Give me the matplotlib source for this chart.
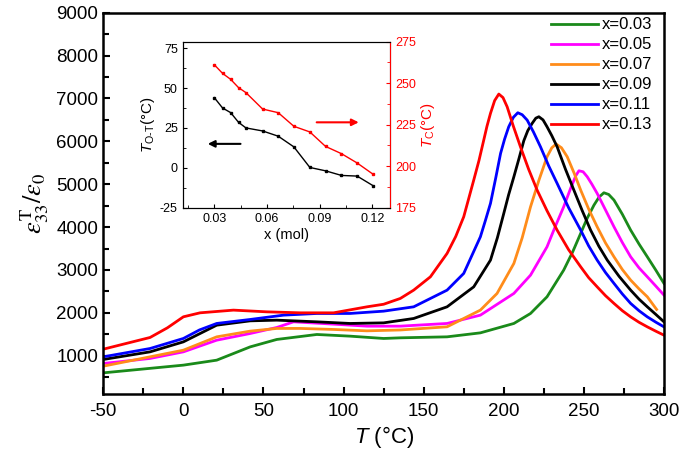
import numpy as np
import matplotlib
matplotlib.use("Agg")
import matplotlib.pyplot as plt
from matplotlib.ticker import MultipleLocator

plt.rcParams['font.family'] = ['Liberation Sans', 'DejaVu Sans']
plt.rcParams['mathtext.fontset'] = 'custom'
plt.rcParams['mathtext.rm'] = 'Liberation Sans'
plt.rcParams['mathtext.it'] = 'Liberation Sans:italic'
plt.rcParams['axes.unicode_minus'] = False

# ---- main curves: (T in °C, permittivity) ----
T_003 = [-50, 0, 20.8, 41.7, 58.3, 83.3, 104, 125, 135.4, 164.6, 185.4, 206.3, 216.7, 227, 237.4, 243, 248, 252, 256.3, 259.5, 262.5, 265.5, 268.8, 274, 279.2, 284.5, 289.6, 295, 300]
e_003 = [600, 780, 896, 1206, 1379, 1495, 1456, 1402, 1417, 1440, 1533, 1752, 1985, 2374, 2996, 3420, 3852, 4200, 4512, 4700, 4800, 4760, 4629, 4300, 3929, 3600, 3306, 2990, 2686]

T_005 = [-50, -20.8, 0, 20.8, 41.7, 58.3, 68.8, 93.75, 114.6, 135.4, 164.6, 185.4, 206.3, 216.7, 227, 232, 237.4, 242, 245, 246.9, 249.5, 252.1, 255, 258.3, 263.5, 268.8, 274, 279.2, 284.4, 289.6, 295, 300]
e_005 = [818, 936, 1090, 1362, 1518, 1658, 1790, 1736, 1689, 1689, 1752, 1946, 2452, 2879, 3540, 4000, 4473, 4930, 5200, 5313, 5290, 5173, 5000, 4785, 4400, 4006, 3640, 3306, 3050, 2840, 2620, 2413]

T_007 = [-50, 0, 20.8, 41.7, 58.3, 72.9, 93.75, 114.6, 135.4, 164.6, 185.4, 195.8, 206.3, 211.5, 216.7, 222, 227, 230, 232.7, 236, 239.6, 244, 248, 253, 258.3, 263.5, 268.8, 274, 279.2, 284.4, 289.6, 295.4]
e_007 = [756, 1129, 1440, 1573, 1636, 1636, 1612, 1580, 1600, 1674, 2063, 2452, 3152, 3750, 4473, 5100, 5640, 5850, 5936, 5850, 5640, 5250, 4863, 4420, 4006, 3630, 3306, 3010, 2763, 2560, 2374, 2079]

T_009 = [-50, -20.8, 0, 20.8, 41.7, 58.3, 83.3, 104, 125, 143.75, 164.6, 181.25, 191.7, 196, 200, 203, 206.3, 209.5, 212.5, 215, 217.7, 220, 221.9, 224.5, 227, 230, 233.3, 238.5, 243.75, 249, 254.2, 259.4, 264.6, 272, 279.2, 284.4, 289.6, 295, 300]
e_009 = [912, 1090, 1323, 1712, 1813, 1829, 1790, 1752, 1766, 1868, 2140, 2606, 3229, 3750, 4318, 4750, 5173, 5600, 6013, 6250, 6418, 6540, 6573, 6500, 6340, 6130, 5873, 5350, 4863, 4380, 3929, 3550, 3229, 2850, 2529, 2320, 2140, 1960, 1790]

T_011 = [-50, -20.8, 0, 10, 20.8, 41.7, 62.5, 83.3, 104, 125, 143.75, 164.6, 175, 185.4, 188.5, 191.7, 195, 198, 200.5, 203.1, 206, 208.75, 211.5, 214.6, 218.5, 222.9, 228, 233.3, 240.5, 248, 253, 258.3, 263.5, 268.8, 274, 279.2, 284.4, 289.6, 295, 300]
e_011 = [974, 1168, 1402, 1600, 1752, 1845, 1946, 1985, 1985, 2039, 2140, 2529, 2919, 3773, 4150, 4552, 5150, 5718, 6050, 6340, 6560, 6666, 6620, 6495, 6220, 5873, 5430, 5019, 4450, 3929, 3560, 3229, 2940, 2686, 2440, 2219, 2050, 1906, 1780, 1673]

T_013 = [-50, -20.8, -10, 0, 10.4, 31.25, 52.1, 72.9, 93.75, 114.6, 125, 135.4, 143.75, 154.2, 164.6, 170, 175, 178, 181.25, 184.5, 187.5, 189.5, 191.7, 194.3, 196.9, 199.5, 202.1, 206, 210.4, 215.5, 220.8, 227, 233.3, 240.5, 248, 253, 258.3, 263.5, 268.8, 274, 279.2, 284.4, 289.6, 295, 300]
e_013 = [1152, 1425, 1650, 1907, 2000, 2063, 2023, 2000, 2000, 2140, 2200, 2335, 2529, 2840, 3385, 3780, 4240, 4650, 5096, 5550, 6029, 6350, 6652, 6950, 7102, 7020, 6806, 6350, 5873, 5350, 4863, 4380, 3929, 3470, 3073, 2820, 2606, 2400, 2219, 2050, 1906, 1780, 1673, 1570, 1479]

series = [
    ("x=0.03", T_003, e_003, "#1a8a1a"),
    ("x=0.05", T_005, e_005, "#ff00ff"),
    ("x=0.07", T_007, e_007, "#ff8c1a"),
    ("x=0.09", T_009, e_009, "#000000"),
    ("x=0.11", T_011, e_011, "#0000ff"),
    ("x=0.13", T_013, e_013, "#ff0000"),
]

# ---- inset data ----
x_mol = [0.030, 0.0347, 0.0393, 0.0438, 0.048, 0.0575, 0.0664, 0.0753, 0.0844, 0.0933, 0.1024, 0.1113, 0.1204]
T_OT = [44, 37.5, 34.6, 28.5, 25, 23.1, 19.8, 13.1, 0.2, -1.9, -4.8, -5.2, -11.25]
T_C = [261.1, 255.9, 252.3, 247.3, 244.3, 234.4, 232.2, 224.0, 220.6, 211.9, 207.5, 201.9, 195.1]

x_ticks = [-50, 0, 50, 100, 150, 200, 250, 300]
y_ticks = [1000, 2000, 3000, 4000, 5000, 6000, 7000, 8000, 9000]

fig = plt.figure(figsize=(6.85, 4.61), dpi=100)
ax = fig.add_axes([0.1508, 0.1447, 0.8185, 0.8278])
for lab, T, e, c in series:
    ax.plot(T, e, color=c, lw=2, label=lab)
ax.set_xlim(-50, 300)
ax.set_ylim(100, 9000)
ax.set_xticks(x_ticks)
ax.set_yticks(y_ticks)
ax.xaxis.set_minor_locator(MultipleLocator(25))
ax.yaxis.set_minor_locator(MultipleLocator(500))
ax.tick_params(which='both', direction='in', top=False, right=False, labelsize=13.5, width=1.5)
ax.tick_params(axis='x', pad=6)
ax.tick_params(which='major', length=5)
ax.tick_params(which='minor', length=4)
for s in ax.spines.values():
    s.set_linewidth(1.8)
ax.set_xlabel(r"$T$ (°C)", fontsize=16, labelpad=3)
ax.set_ylabel(r"$\varepsilon_{33}^{\mathrm{T}}/\varepsilon_0$", fontsize=19, math_fontfamily='stix', labelpad=4)
leg = ax.legend(loc='upper right', bbox_to_anchor=(0.997, 1.014), frameon=False, fontsize=12,
                handlelength=2.8, handletextpad=0.25, labelspacing=0.3, borderaxespad=0.2)

# ---- inset ----
ins = fig.add_axes([0.2667, 0.5482, 0.3026, 0.3614])
ins.plot(x_mol, T_OT, color='black', lw=1, marker='s', ms=1.6)
ins.set_xlim(0.012, 0.130)
ins.set_ylim(-25.4, 79.1)
ins.set_xticks([0.03, 0.06, 0.09, 0.12])
ins.set_yticks([-25, 0, 25, 50, 75])
ins.xaxis.set_minor_locator(MultipleLocator(0.015))
ins.yaxis.set_minor_locator(MultipleLocator(12.5))
ins.tick_params(which='both', direction='in', labelsize=9, top=False, right=False)
ins.tick_params(which='major', length=3)
ins.tick_params(which='minor', length=2)
ins.set_xlabel("x (mol)", fontsize=10.5, labelpad=2)
ins.set_ylabel(r"$T_{\mathrm{O\text{-}T}}$(°C)", fontsize=11, labelpad=2)
ins.annotate("", xy=(0.0247, 15), xytext=(0.0465, 15),
             arrowprops=dict(arrowstyle='-|>', color='black', lw=1.5, mutation_scale=10))

ins2 = ins.twinx()
ins2.plot(x_mol, T_C, color='red', lw=1, marker='s', ms=1.6)
ins2.set_ylim(174.6, 275)
ins2.set_yticks([175, 200, 225, 250, 275])
ins2.yaxis.set_minor_locator(MultipleLocator(12.5))
ins2.tick_params(axis='y', which='both', direction='in', colors='red', labelsize=9)
ins2.tick_params(which='major', length=3)
ins2.tick_params(which='minor', length=2)
ins2.spines['right'].set_color('red')
ins2.set_ylabel(r"$T_{\mathrm{C}}$(°C)", color='red', fontsize=11, labelpad=2)
ins2.annotate("", xy=(0.1138, 226.4), xytext=(0.0867, 226.4),
              arrowprops=dict(arrowstyle='-|>', color='red', lw=1.5, mutation_scale=10))

fig.savefig("out.png", dpi=100)
